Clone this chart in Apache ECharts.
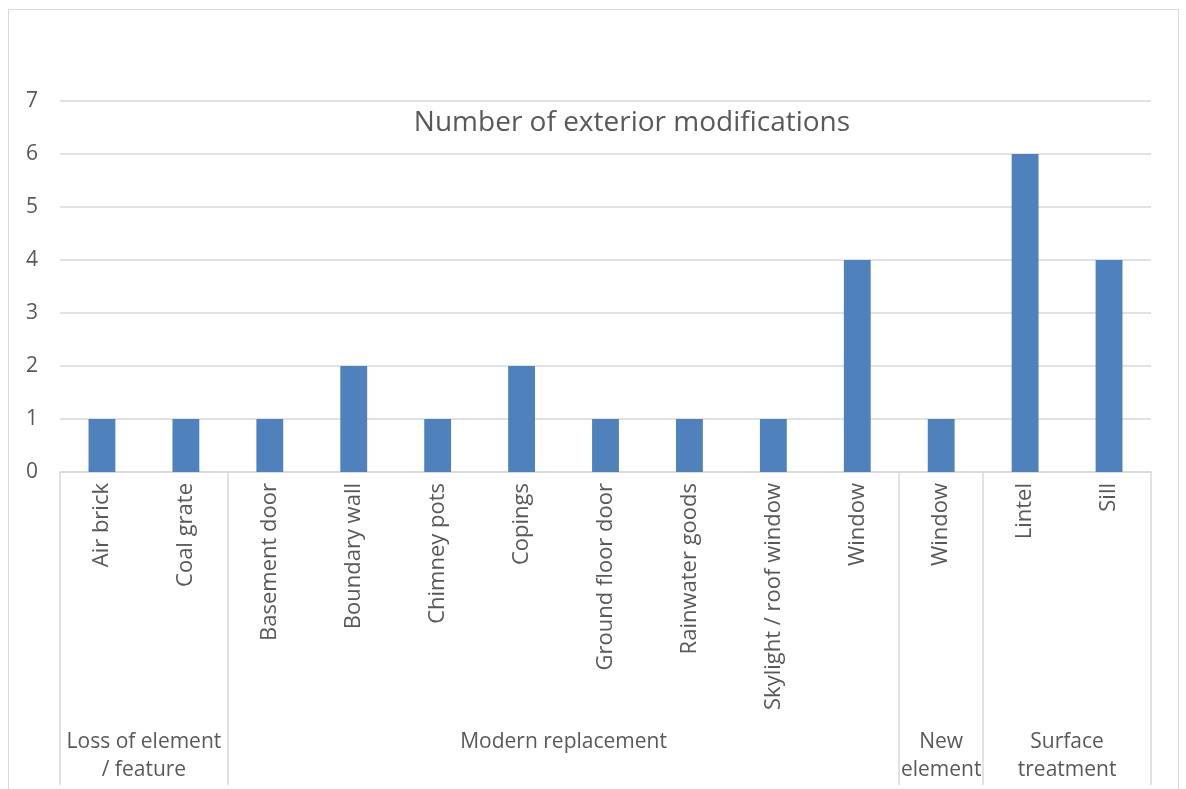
<!DOCTYPE html>
<html>
<head>
<meta charset="utf-8">
<script src="https://cdn.jsdelivr.net/npm/echarts@6/dist/echarts.min.js"></script>
<style>
  html, body { margin: 0; padding: 0; background: #fff; overflow: hidden; }
  #frame { position: absolute; left: 8px; top: 9px; width: 1171px; height: 800px; border: 1px solid #d9d9d9; box-sizing: border-box; }
  #chart { position: absolute; left: 0; top: 0; width: 1186px; height: 789px; }
</style>
</head>
<body>
<div id="frame"></div>
<div id="chart"></div>
<script>
const categories = ["Air brick", "Coal grate", "Basement door", "Boundary wall", "Chimney pots", "Copings",
  "Ground floor door", "Rainwater goods", "Skylight / roof window", "Window", "Window", "Lintel", "Sill"];
const values = [1, 1, 1, 2, 1, 2, 1, 1, 1, 4, 1, 6, 4];
const groupNames = ["Loss of element\n/ feature", "Modern replacement", "New\nelement", "Surface\ntreatment"];
const groupSizes = [2, 8, 1, 2];
const yTicks = [0, 1, 2, 3, 4, 5, 6, 7];

// group boundaries and centres in category units
const bounds = [0];
groupSizes.forEach(function (n) { bounds.push(bounds[bounds.length - 1] + n); });
const centres = {};
groupNames.forEach(function (g, i) { centres[(bounds[i] + bounds[i + 1]) / 2] = g; });

const font = "'Open Sans', sans-serif";
const textColor = "#595959";

const chart = echarts.init(document.getElementById("chart"));
chart.setOption({
  animation: false,
  title: {
    text: "Number of exterior modifications",
    left: 627,
    top: 104,
    textAlign: "center",
    textStyle: { color: textColor, fontFamily: font, fontSize: 28, fontWeight: "normal" }
  },
  grid: { left: 60, right: 35, top: 101, bottom: 317, containLabel: false, outerBoundsMode: "none" },
  xAxis: [
    {
      type: "category",
      data: categories,
      axisLine: { lineStyle: { color: "#d9d9d9", width: 1.5 } },
      axisTick: {
        show: true,
        length: 313,
        lineStyle: { color: "#d9d9d9", width: 1.5 },
        interval: function (index) { return bounds.indexOf(index) >= 0; }
      },
      axisLabel: {
        rotate: 90,
        interval: 0,
        margin: 11,
        color: textColor,
        fontFamily: font,
        fontSize: 22
      }
    },
    {
      type: "value",
      position: "bottom",
      offset: 248,
      min: 0,
      max: categories.length,
      interval: 0.5,
      axisLine: { show: false },
      axisTick: { show: false },
      splitLine: { show: false },
      axisLabel: {
        show: true,
        showMinLabel: true,
        showMaxLabel: true,
        color: textColor,
        fontFamily: font,
        fontSize: 21,
        lineHeight: 28,
        formatter: function (v) { return centres[v] || ""; }
      }
    }
  ],
  yAxis: {
    type: "value",
    min: yTicks[0],
    max: yTicks[yTicks.length - 1],
    interval: 1,
    axisLine: { show: false },
    axisTick: { show: false },
    splitLine: { lineStyle: { color: "#d9d9d9", width: 1.5 } },
    axisLabel: { color: textColor, fontFamily: font, fontSize: 21, margin: 22 }
  },
  series: [
    {
      type: "bar",
      data: values,
      barWidth: "32%",
      itemStyle: { color: "#4f81bd" }
    }
  ]
});
</script>
</body>
</html>
